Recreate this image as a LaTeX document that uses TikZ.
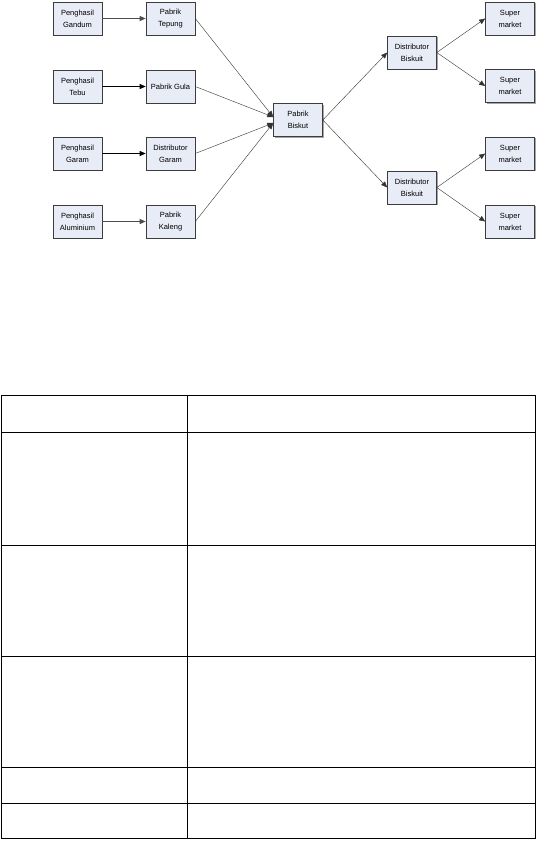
\documentclass[tikz,border=0pt]{standalone}
\usepackage{fontspec}
\setmainfont{Liberation Sans}
\usepackage{tikz}
\usetikzlibrary{arrows.meta, positioning, calc, shadows}

\definecolor{boxfill}{RGB}{232,236,246}
\definecolor{boxline}{RGB}{60,60,60}

\begin{document}
\begin{tikzpicture}[x=1pt, y=-1pt,
    chain/.style={rectangle, draw=boxline, fill=boxfill, line width=0.6pt,
        minimum width=49pt, minimum height=33pt, inner sep=1pt, align=center,
        font=\fontsize{7.5}{12}\selectfont,
        drop shadow={shadow xshift=1.2pt, shadow yshift=-1.2pt, fill=gray!70, opacity=1}},
    flow/.style={draw, -{Triangle[length=6pt, width=5pt]}, line width=0.7pt},
    thin flow/.style={flow, line width=0.4pt, draw=black!80},
    grid/.style={line width=1pt}]

    \useasboundingbox (0,0) rectangle (538,841);

    % pemasok bahan baku
    \node[chain] (gandum) at (77.5, 18.5) {Penghasil\\Gandum};
    \node[chain] (tebu) at (77.5, 86.5) {Penghasil\\Tebu};
    \node[chain] (garam) at (77.5, 153.5) {Penghasil\\Garam};
    \node[chain] (alumin) at (77.5, 221.5) {Penghasil\\Aluminium};

    \node[chain] (tepung) at (170.5, 18.5) {Pabrik\\Tepung};
    \node[chain] (gula) at (170.5, 86.5) {Pabrik Gula};
    \node[chain] (distgaram) at (170.5, 153.5) {Distributor\\Garam};
    \node[chain] (kaleng) at (170.5, 221.5) {Pabrik\\Kaleng};

    \node[chain] (biskut) at (298, 120) {Pabrik\\Biskut};

    \node[chain] (dist1) at (412, 52.5) {Distributor\\Biskuit};
    \node[chain] (dist2) at (412, 187.5) {Distributor\\Biskuit};

    \node[chain] (super1) at (510, 18.5) {Super\\market};
    \node[chain] (super2) at (510, 86) {Super\\market};
    \node[chain] (super3) at (510, 153.5) {Super\\market};
    \node[chain] (super4) at (510, 221.5) {Super\\market};

    \draw[flow, line width=1.2pt, draw=gray!60!black] (gandum) -- (tepung);
    \draw[flow] (tebu) -- (gula);
    \draw[flow] (garam) -- (distgaram);
    \draw[flow, line width=1.2pt, draw=gray!60!black] (alumin) -- (kaleng);

    \draw[thin flow] (tepung.east) -- ([yshift=3pt]biskut.west);
    \draw[thin flow] (gula.east) -- ([yshift=3pt]biskut.west);
    \draw[thin flow] (distgaram.east) -- ([yshift=-3pt]biskut.west);
    \draw[thin flow] (kaleng.east) -- ([yshift=-3pt]biskut.west);

    \draw[thin flow] (biskut.east) -- (dist1.west);
    \draw[thin flow] (biskut.east) -- (dist2.west);

    \draw[thin flow] (dist1.east) -- (super1.west);
    \draw[thin flow] (dist1.east) -- (super2.west);
    \draw[thin flow] (dist2.east) -- (super3.west);
    \draw[thin flow] (dist2.east) -- (super4.west);

    % tabel kosong
    \draw[grid] (1.5,395) rectangle (535,838);
    \draw[grid] (187,395) -- (187,838);
    \foreach \y in {432, 545, 656, 767, 803}
        \draw[grid] (1.5,\y) -- (535,\y);
\end{tikzpicture}
\end{document}
